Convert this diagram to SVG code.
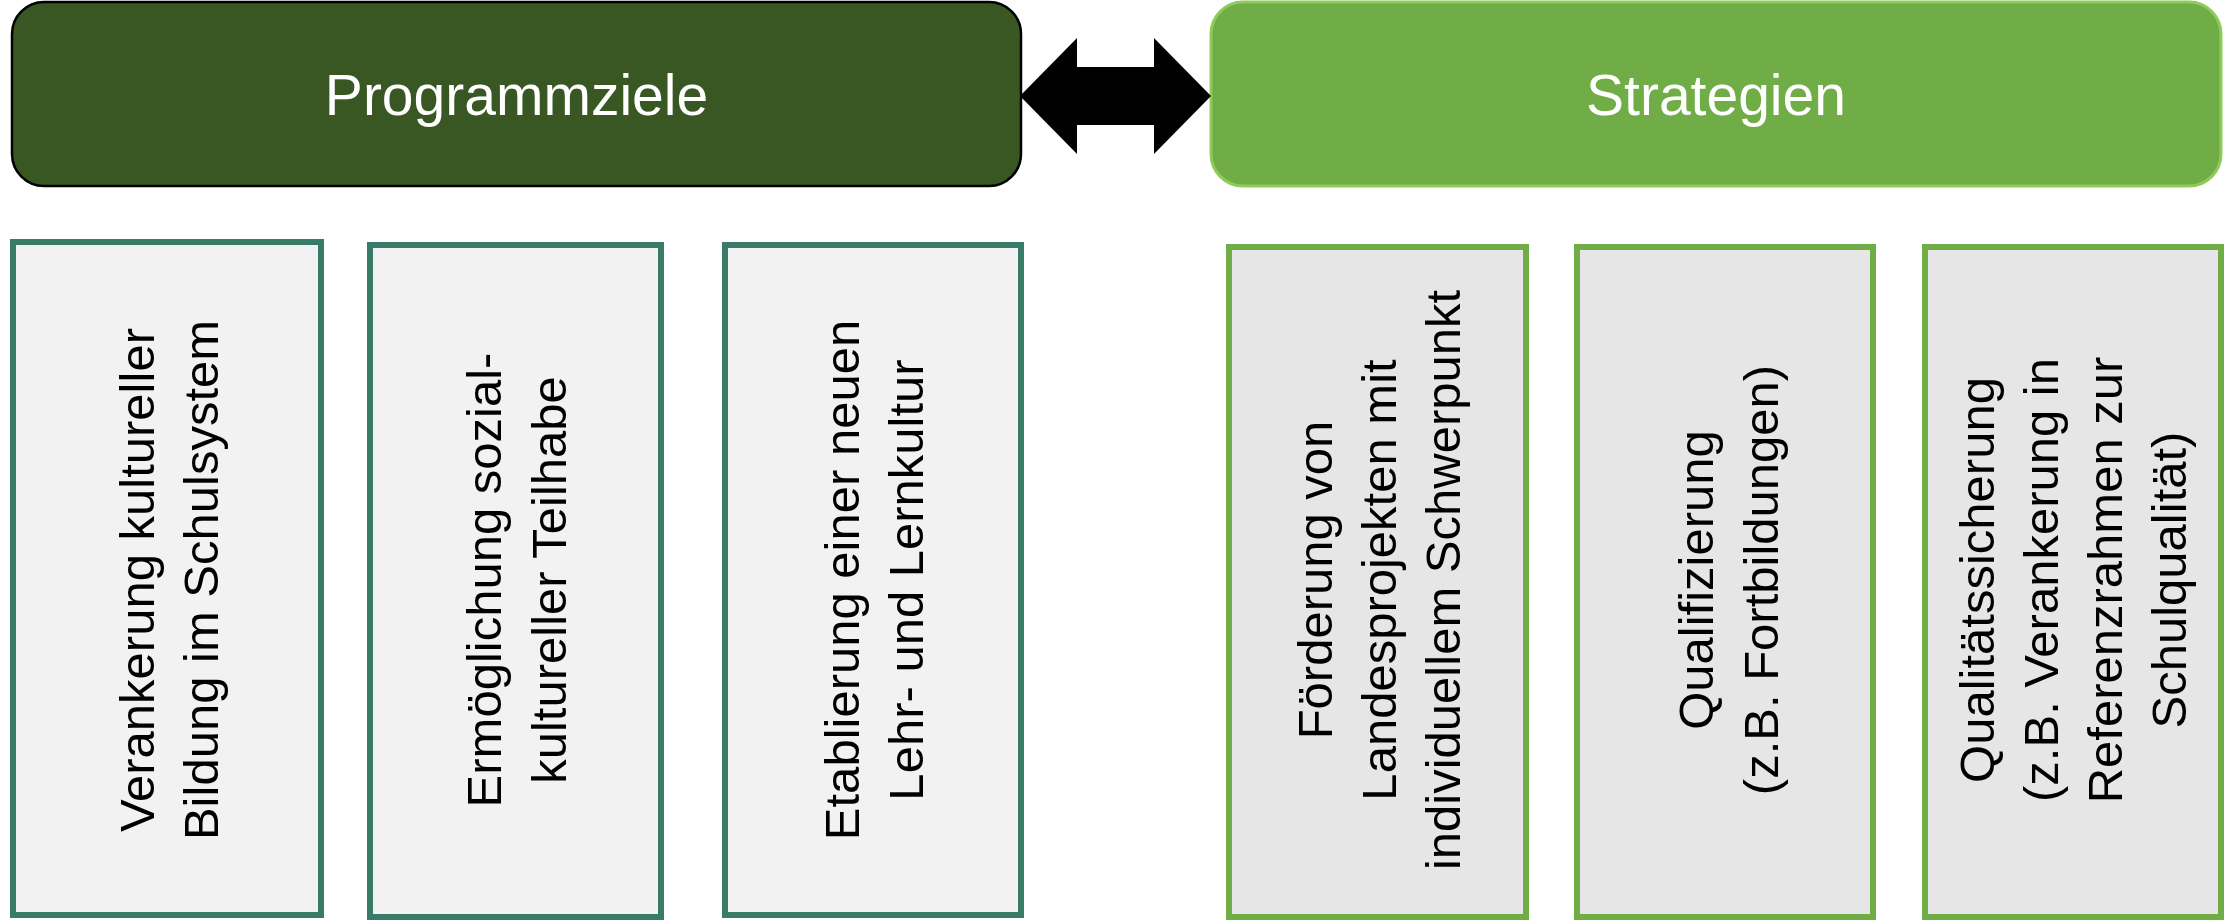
<svg xmlns="http://www.w3.org/2000/svg" width="2226" height="924" viewBox="0 0 2226 924">
<style>
.hdr{font-family:"Liberation Sans",Arial,sans-serif;font-size:57px;fill:#ffffff;text-anchor:middle}
.lbl{font-family:"Liberation Sans",Arial,sans-serif;font-size:49px;fill:#000000;text-anchor:middle}
.goal{fill:#F2F2F2;stroke:#387B69;stroke-width:6}
.strat{fill:#E6E6E6;stroke:#70AD47;stroke-width:6}
</style>
<rect width="2226" height="924" fill="#ffffff"/>
<g id="programmziele">
<rect x="12" y="2" width="1009" height="184" rx="32" ry="32" fill="#385723" stroke="#000000" stroke-width="2.5"/>
<text class="hdr" x="516.5" y="115">Programmziele</text>
</g>
<g id="strategien">
<rect x="1211" y="2" width="1010" height="184" rx="32" ry="32" fill="#70AD47" stroke="#8FCB5B" stroke-width="3"/>
<text class="hdr" x="1716" y="115">Strategien</text>
</g>
<g id="connectors">
<polygon points="1020,96 1077,38 1077,67 1154,67 1154,38 1211,96 1154,154 1154,125 1077,125 1077,154" fill="#000000"/>
</g>
<g id="ziel1">
<rect class="goal" x="13" y="242" width="308" height="673"/>
<text class="lbl" transform="translate(0,580) rotate(-90)"><tspan x="0" y="154">Verankerung kultureller</tspan><tspan x="0" y="218">Bildung im Schulsystem</tspan></text>
</g>
<g id="ziel2">
<rect class="goal" x="370" y="245" width="291" height="672"/>
<text class="lbl" transform="translate(0,580) rotate(-90)"><tspan x="0" y="501">Ermöglichung sozial-</tspan><tspan x="0" y="566">kultureller Teilhabe</tspan></text>
</g>
<g id="ziel3">
<rect class="goal" x="725" y="245" width="296" height="670"/>
<text class="lbl" transform="translate(0,580) rotate(-90)"><tspan x="0" y="859">Etablierung einer neuen</tspan><tspan x="0" y="923">Lehr- und Lernkultur</tspan></text>
</g>
<g id="strategie1">
<rect class="strat" x="1229" y="247" width="297" height="670"/>
<text class="lbl" transform="translate(0,580) rotate(-90)"><tspan x="0" y="1332">Förderung von</tspan><tspan x="0" y="1396">Landesprojekten mit</tspan><tspan x="0" y="1460">individuellem Schwerpunkt</tspan></text>
</g>
<g id="strategie2">
<rect class="strat" x="1577" y="247" width="296" height="670"/>
<text class="lbl" transform="translate(0,580) rotate(-90)"><tspan x="0" y="1713">Qualifizierung</tspan><tspan x="0" y="1778">(z.B. Fortbildungen)</tspan></text>
</g>
<g id="strategie3">
<rect class="strat" x="1925" y="247" width="296" height="670"/>
<text class="lbl" transform="translate(0,580) rotate(-90)"><tspan x="0" y="1994">Qualitätssicherung</tspan><tspan x="0" y="2058">(z.B. Verankerung in</tspan><tspan x="0" y="2122">Referenzrahmen zur</tspan><tspan x="0" y="2186">Schulqualität)</tspan></text>
</g>
</svg>
